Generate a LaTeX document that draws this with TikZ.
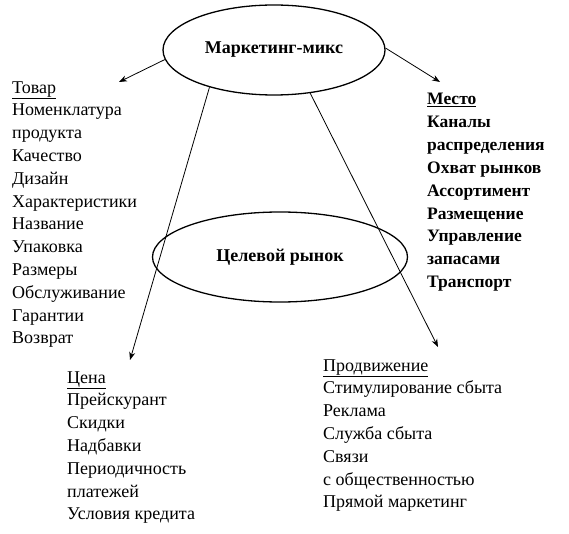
\documentclass[tikz,border=0pt]{standalone}
\usepackage{fontspec}
\setmainfont{Liberation Serif}
\usetikzlibrary{shapes.geometric,arrows.meta}
\tikzset{
  oval/.style={draw, line width=1.3pt, ellipse, inner sep=0pt, font=\fontsize{18}{20}\selectfont\bfseries},
  col/.style={anchor=base west, inner sep=0pt, align=left, font=\fontsize{18}{22.8}\selectfont},
  bcol/.style={col, font=\fontsize{17.5}{22.8}\selectfont\bfseries},
  arr/.style={line width=0.8pt, -{Stealth[length=8pt,width=6pt]}}
}
\begin{document}
\begin{tikzpicture}[x=1pt,y=-1pt]
\useasboundingbox (0,0) rectangle (569,534);
\node[oval, minimum width=222pt, minimum height=90pt] (mm) at (274,50) {Маркетинг-микс};
\node[oval, minimum width=255pt, minimum height=90pt] (tr) at (280,257) {Целевой рынок};

\node[col] (tovar) at (12,343.8) {\underline{Товар}\\Номенклатура\\продукта\\Качество\\Дизайн\\Характеристики\\Название\\Упаковка\\Размеры\\Обслуживание\\Гарантии\\Возврат};
\node[bcol] (mesto) at (427,287.4) {\underline{Место}\\Каналы\\распределения\\Охват рынков\\Ассортимент\\Размещение\\Управление\\запасами\\Транспорт};
\node[col] (cena) at (67,519.8) {\underline{Цена}\\Прейскурант\\Скидки\\Надбавки\\Периодичность\\платежей\\Условия кредита};
\node[col] (prod) at (323,507.8) {\underline{Продвижение}\\Стимулирование сбыта\\Реклама\\Служба сбыта\\Связи\\с общественностью\\Прямой маркетинг};

\coordinate (t1) at (119,82);
\coordinate (t2) at (440,82);
\coordinate (t3) at (130,360);
\coordinate (t4) at (438,347);
\draw[arr] (mm.185) -- (t1);
\draw[arr] (mm.1) -- (t2);
\draw[arr] (mm.210) -- (t3);
\draw[arr] (mm.-50) -- (t4);
\end{tikzpicture}
\end{document}
